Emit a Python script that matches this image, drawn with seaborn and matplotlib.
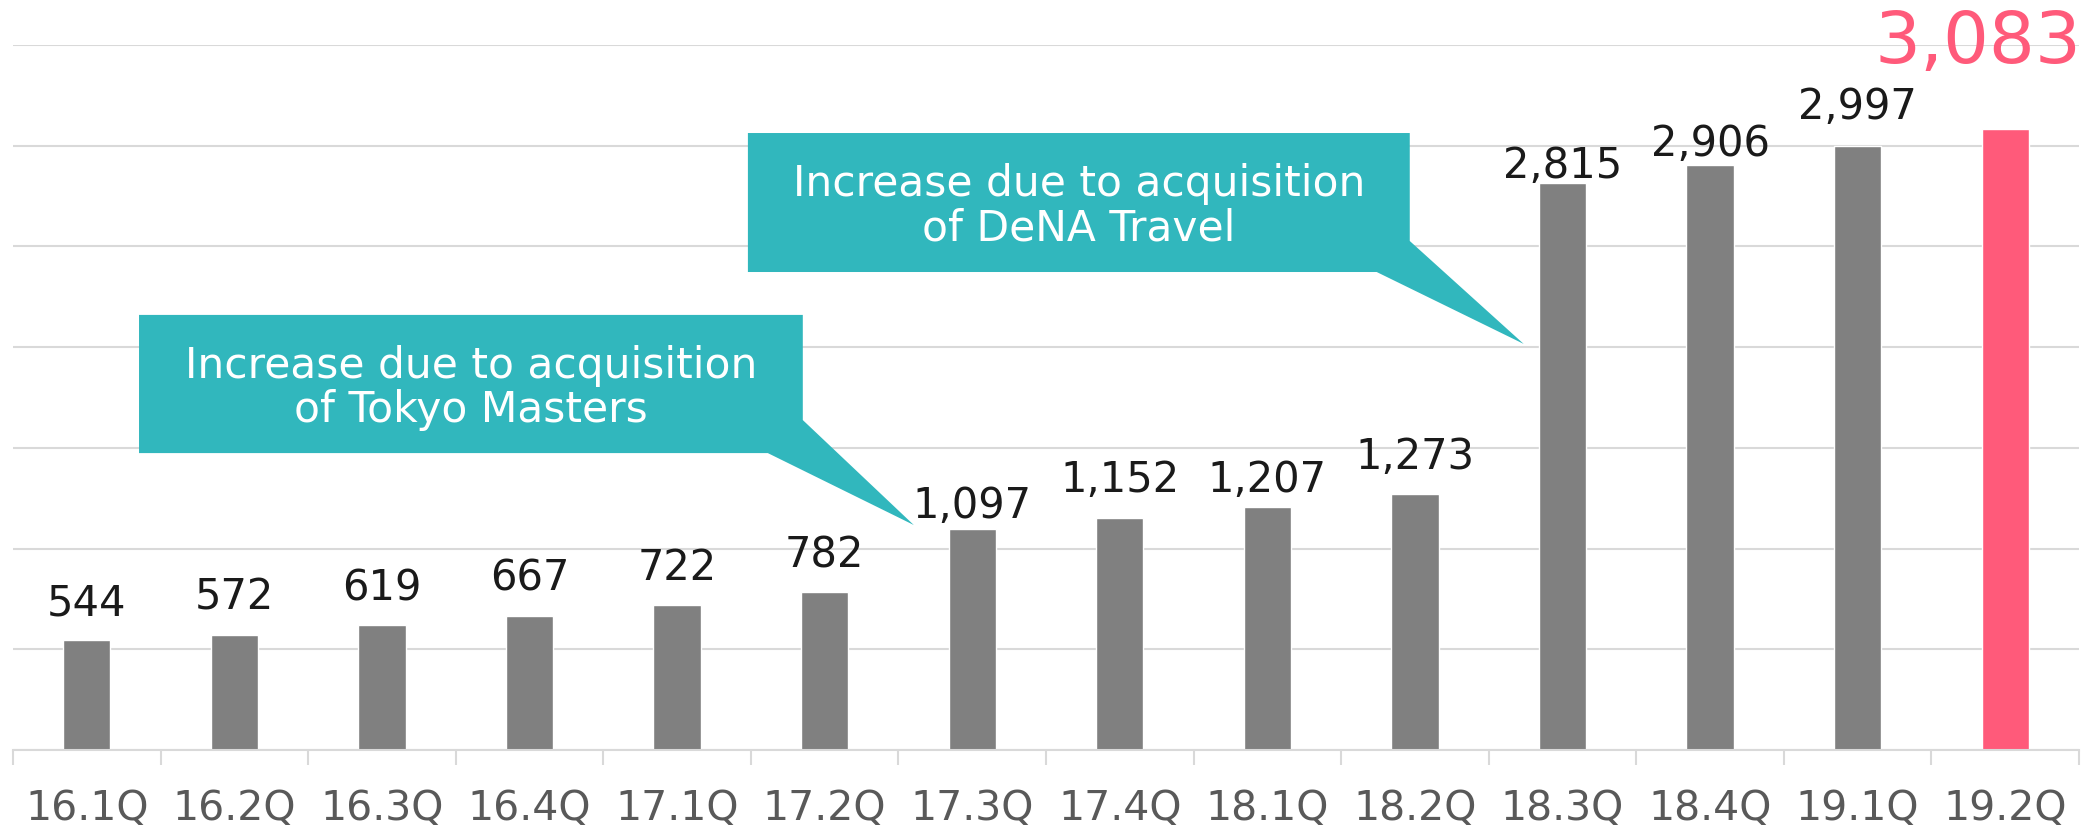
import numpy as np
import pandas as pd
import matplotlib
matplotlib.use("Agg")
import matplotlib.pyplot as plt
from matplotlib.patches import Polygon
import seaborn as sns

# ---- data ----
quarters = ["16.1Q", "16.2Q", "16.3Q", "16.4Q", "17.1Q", "17.2Q", "17.3Q",
            "17.4Q", "18.1Q", "18.2Q", "18.3Q", "18.4Q", "19.1Q", "19.2Q"]
values = [544, 572, 619, 667, 722, 782, 1097, 1152, 1207, 1273, 2815, 2906, 2997, 3083]
value_labels = ["544", "572", "619", "667", "722", "782", "1,097", "1,152", "1,207",
                "1,273", "2,815", "2,906", "2,997", "3,083"]
callout_texts = ["Increase due to acquisition\nof Tokyo Masters",
                 "Increase due to acquisition\nof DeNA Travel"]

# ---- style ----
GRAY = "#808080"
PINK = "#FF5A7A"
TEAL = "#31B7BD"
GRID = "#D9D9D9"
bar_colors = [GRAY] * (len(quarters) - 1) + [PINK]
label_offset_px = [37, 37, 37, 37, 37, 37, 23, 38, 27, 37, 17, 21, 39, 85]

sns.set_theme(style="white")
plt.rcParams["font.family"] = ["DejaVu Sans"]

W, H, DPI = 20.9, 8.3, 100
fig = plt.figure(figsize=(W, H), dpi=DPI)
ax = fig.add_axes([13 / 2090, 1 - 750 / 830, (2079 - 13) / 2090, (750 - 45) / 830])

df = pd.DataFrame({"quarter": quarters, "value": values})
sns.barplot(data=df, x="quarter", y="value", hue="quarter", palette=bar_colors,
            width=0.32, legend=False, ax=ax, saturation=1)

ax.set_xlim(-0.5, len(quarters) - 0.5)
ax.set_ylim(0, 3500)
ax.set_yticks(np.arange(0, 3501, 500))
ax.yaxis.grid(True, color=GRID, linewidth=1.5)
ax.set_axisbelow(True)
ax.tick_params(axis="y", left=False, labelleft=False)
ax.set_xlabel("")
ax.set_ylabel("")
for s in ["top", "right", "left"]:
    ax.spines[s].set_visible(False)
ax.spines["bottom"].set_color(GRID)
ax.spines["bottom"].set_linewidth(1.5)

ax.set_xticks(range(len(quarters)))
ax.set_xticklabels(quarters)
ax.set_xticks(np.arange(-0.5, len(quarters), 1), minor=True)
ax.tick_params(axis="x", which="major", bottom=True, length=0, pad=28,
               labelsize=29.5, labelcolor="#595959")
ax.tick_params(axis="x", which="minor", bottom=True, length=10.8, width=1.5,
               color=GRID, direction="out")

# value labels
for i, (v, lab) in enumerate(zip(values, value_labels)):
    last = i == len(values) - 1
    ax.annotate(lab, xy=(i, v), xytext=(-27 * 0.72 if last else 0, label_offset_px[i] * 0.72),
                textcoords="offset points", ha="center", va="center",
                fontsize=52 if last else 30, color=PINK if last else "#1A1A1A",
                annotation_clip=False)

# callouts (data coords)
def callout(x0, x1, y0, y1, tail_bx, tail_ry, tip, text):
    pts = [(x0, y1), (x1, y1), (x1, tail_ry), tip, (tail_bx, y0), (x0, y0)]
    ax.add_patch(Polygon(pts, closed=True, facecolor=TEAL, edgecolor="none",
                         zorder=5, clip_on=False))
    ax.text((x0 + x1) / 2, (y0 + y1) / 2 - 20, text, ha="center", va="center",
            color="white", fontsize=30.5, linespacing=1.08, zorder=6)

callout(0.354, 4.852, 1474, 2160, 4.615, 1638, (5.604, 1117), callout_texts[0])
callout(4.48, 8.965, 2373, 3063, 8.741, 2527, (9.737, 2016), callout_texts[1])

fig.savefig("out.png", dpi=DPI)
